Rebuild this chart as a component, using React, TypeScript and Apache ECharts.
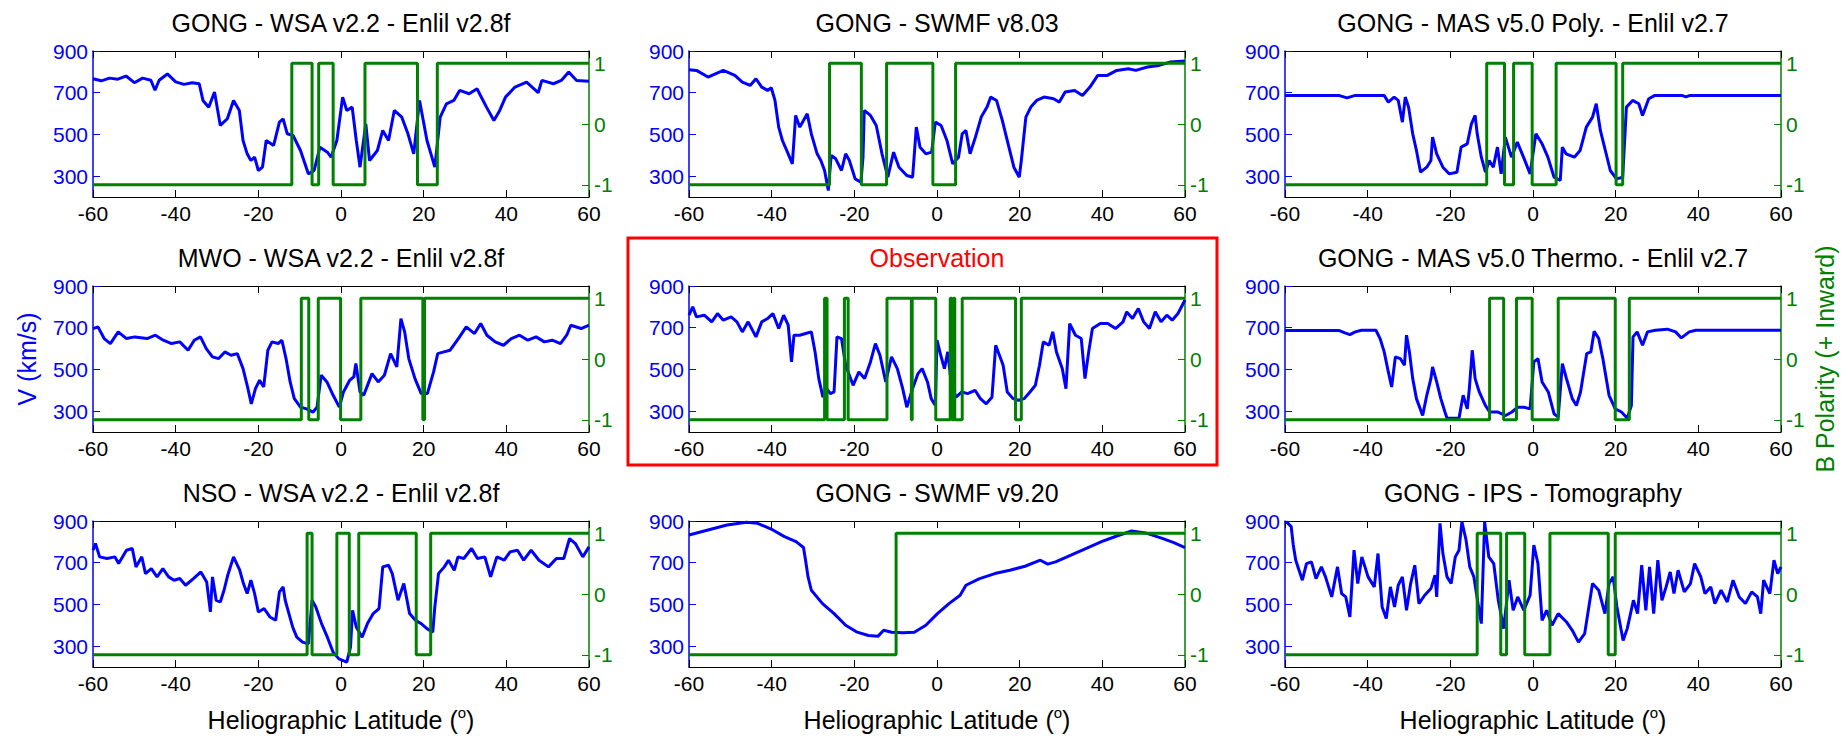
import React, { useEffect, useRef } from "react";
import * as echarts from "echarts";

// ---------- data ----------
const titles = [
  "GONG - WSA v2.2 - Enlil v2.8f",
  "GONG - SWMF v8.03",
  "GONG - MAS v5.0 Poly. - Enlil v2.7",
  "MWO - WSA v2.2 - Enlil v2.8f",
  "Observation",
  "GONG - MAS v5.0 Thermo. - Enlil v2.7",
  "NSO - WSA v2.2 - Enlil v2.8f",
  "GONG - SWMF v9.20",
  "GONG - IPS - Tomography",
];
const latTicks = [-60, -40, -20, 0, 20, 40, 60];
const speedTicks = [300, 500, 700, 900];
const polarityTicks = [-1, 0, 1];

// speed [latitude, km/s]
const gongWsaSpeed = [[-60,767],[-58,757],[-56,770],[-54,765],[-52,780],[-50,748],[-48,770],[-46,760],[-45,712],[-44,760],[-42,790],[-40,752],[-38,740],[-36,748],[-34.3,743],[-33.4,663],[-32,630],[-30.6,703],[-29.2,543],[-27.5,575],[-26,663],[-24.6,615],[-23.7,471],[-22.7,407],[-21.8,375],[-20.9,391],[-20,327],[-19,343],[-18.1,471],[-16.3,447],[-14.9,559],[-14,575],[-13,503],[-11.6,495],[-9.8,423],[-7.9,311],[-6.5,327],[-5.1,439],[-3.3,415],[-2.4,391],[-1,471],[0.4,679],[1.4,615],[2.7,631],[3.7,471],[4.6,343],[6,551],[6.9,375],[8.8,423],[10.1,519],[11.5,471],[12.9,615],[14.7,583],[16.2,503],[17.6,407],[19,663],[20.8,471],[22.7,343],[24,583],[25.5,647],[27.3,663],[28.7,711],[31,695],[32.9,719],[35.2,631],[37,567],[38.4,615],[39.8,679],[42.1,727],[44.9,751],[47.7,700],[48.6,759],[51.4,743],[53.3,759],[55.1,799],[57,759],[60,755]];
const gongSwmf8Speed = [[-60,810],[-58.2,807],[-55.4,775],[-51.7,807],[-48.9,783],[-47.1,751],[-45.2,735],[-43.8,767],[-42.4,727],[-41,711],[-40.1,724],[-39.2,663],[-38.3,535],[-37.4,471],[-36,407],[-35,359],[-34.5,503],[-34.2,591],[-33.2,535],[-32.3,567],[-31.4,599],[-30.4,503],[-29,407],[-28.1,375],[-27.2,327],[-26.3,231],[-25.6,399],[-24.5,383],[-23.1,327],[-22.1,407],[-21.2,375],[-19.8,287],[-18.4,271],[-17.9,391],[-17.6,615],[-16.1,591],[-14.7,543],[-13.3,407],[-11.9,295],[-10.5,415],[-9.2,343],[-7.3,303],[-5.9,295],[-5,535],[-4.1,439],[-2.7,407],[-1.3,415],[-0.4,559],[1,543],[2.4,471],[3.8,359],[5.2,391],[6.1,503],[7,519],[8,407],[9.3,487],[10.7,583],[12.1,631],[13,679],[14.4,663],[15.8,567],[17.2,455],[18.6,343],[19.9,295],[20.4,375],[21.5,583],[22.7,631],[24.1,663],[25.9,679],[28.2,671],[29.6,655],[31,703],[33.3,711],[35.2,687],[37,727],[38.9,783],[41.2,783],[43.5,807],[46.3,815],[48.1,807],[50.9,823],[53.7,831],[56.5,847],[60,852]];
const gongMasPolySpeed = [[-60,687],[-47,687],[-45,675],[-43,687],[-36,687],[-35,655],[-33.6,679],[-32.6,663],[-31.6,559],[-30.9,679],[-30.1,631],[-29.1,503],[-28.2,423],[-27.2,319],[-25.7,343],[-24.7,375],[-24.3,487],[-23.3,407],[-21.8,343],[-20.3,311],[-18.4,319],[-17.4,439],[-15.9,455],[-14.9,551],[-14,591],[-13.5,503],[-12.5,391],[-11.5,319],[-10.6,375],[-9.6,343],[-8.6,439],[-7.7,311],[-6.7,487],[-5.2,391],[-3.8,463],[-2.3,391],[-0.7,311],[0.7,503],[2.2,455],[3.6,391],[5.1,295],[6.6,279],[7.1,439],[8,407],[10,391],[11.4,423],[12.9,535],[14.4,583],[15.3,647],[16.3,519],[17.3,439],[18.7,327],[20.2,287],[21.7,295],[22.6,631],[24.1,663],[25.6,647],[26.5,591],[28,671],[29.5,687],[36,687],[37,680],[38,687],[60,687]];
const mwoWsaSpeed = [[-60,696],[-58.8,704],[-57.3,648],[-55.8,624],[-53.9,680],[-51.9,648],[-49.9,656],[-46.9,648],[-44.9,664],[-43,640],[-41,624],[-39,632],[-37,592],[-35.5,640],[-34,656],[-32.6,600],[-31.1,560],[-29.6,552],[-28.1,584],[-26.6,568],[-25.1,576],[-23.7,504],[-22.7,424],[-21.7,335],[-20.7,408],[-19.7,448],[-18.7,416],[-17.7,592],[-16.7,632],[-15.2,624],[-14.3,640],[-13.3,552],[-12.3,440],[-11.3,360],[-9.8,319],[-8.3,311],[-6.8,295],[-5.8,319],[-4.8,472],[-3.4,440],[-1.9,376],[-0.4,319],[0.6,392],[2.1,448],[3.1,464],[3.6,528],[4.6,392],[5.5,376],[7.5,480],[9,440],[10.5,472],[12,576],[13.5,512],[14.5,744],[15.4,680],[16.4,552],[17.9,456],[19.4,384],[20.9,384],[22.4,488],[23.4,576],[24.9,584],[26.4,592],[28.4,648],[30.3,704],[32.3,672],[33.8,720],[35.3,664],[37.3,632],[39.3,616],[41.2,648],[43.2,664],[45.2,640],[47.2,656],[49.2,632],[51.1,640],[53.1,624],[54.6,664],[55.6,712],[58.1,696],[60,712]];
const observedSpeed = [[-60,760],[-59.1,800],[-58.2,752],[-56.3,760],[-54.5,728],[-53.1,768],[-51.7,736],[-49.8,752],[-48.4,728],[-47.1,680],[-45.7,728],[-43.8,656],[-42.4,728],[-41,744],[-39.7,768],[-38.3,696],[-37.1,760],[-36,712],[-35.2,536],[-34.6,664],[-33.2,664],[-31.8,672],[-30.4,680],[-29.5,584],[-28.6,456],[-27.6,367],[-26.7,408],[-25.8,384],[-24.9,392],[-24.2,656],[-23.1,648],[-22.1,520],[-21.2,472],[-20.3,424],[-18.9,488],[-17.5,456],[-16.1,536],[-14.9,624],[-13.8,568],[-12.4,440],[-11,560],[-9.6,504],[-8.3,408],[-7.3,319],[-5.9,408],[-4.6,480],[-3.6,504],[-2.3,440],[-1.4,360],[-0.4,327],[0,640],[0.9,568],[1.8,504],[2.6,584],[3.5,424],[4.6,367],[6,392],[7.4,384],[9.2,400],[10.5,360],[11.9,335],[13.3,367],[14.2,616],[15.1,568],[16,520],[17,392],[18.4,360],[19.7,352],[21.1,360],[22.5,392],[23.8,424],[24.8,520],[25.7,632],[27.1,616],[28,680],[28.9,584],[30.3,504],[31.2,408],[32.1,720],[33.5,664],[34.9,648],[35.8,456],[36.7,584],[37.6,696],[39.5,720],[41.3,720],[43.2,696],[45,728],[45.9,776],[47.3,744],[48.7,792],[50,728],[51.4,696],[52.8,776],[54.2,728],[55.6,760],[56.9,736],[58.3,768],[60,833]];
const gongMasThermoSpeed = [[-60,687],[-47,687],[-45.5,675],[-44.3,667],[-43,680],[-41.5,688],[-38,688],[-37,648],[-36,584],[-35,488],[-34.2,416],[-33.3,560],[-32.1,552],[-31.1,520],[-30.6,664],[-29.9,584],[-29.1,456],[-28.2,360],[-26.7,279],[-25.7,376],[-24.7,456],[-24.3,512],[-23.3,440],[-22.3,360],[-21.3,296],[-20.8,266],[-17.9,266],[-16.9,376],[-15.9,311],[-15.4,408],[-14.7,592],[-14,456],[-13,392],[-11.5,327],[-10.5,296],[-8.6,296],[-6.6,279],[-5.1,296],[-3.7,319],[-2.2,319],[-0.7,311],[0.2,536],[1.2,552],[2.2,440],[3.7,392],[5.1,287],[6.1,271],[7.1,528],[8.1,456],[9.5,360],[10.5,327],[11.5,392],[13,576],[14,584],[14.8,683],[15.9,648],[16.9,552],[18.4,376],[19.9,311],[21.4,296],[22.8,266],[23.8,327],[24.2,656],[25.2,680],[26.5,616],[27.7,680],[29.6,688],[32.5,693],[34.5,680],[35.9,651],[37.8,680],[39.4,688],[60,688]];
const nsoWsaSpeed = [[-60,760],[-59.4,792],[-58.4,728],[-56.6,720],[-54.7,728],[-53.8,696],[-51.9,760],[-50.5,768],[-49.6,680],[-48.2,728],[-47.3,648],[-45.9,672],[-44.5,632],[-43.1,672],[-41.7,632],[-40.4,616],[-39,624],[-37.6,592],[-35.7,624],[-33.9,656],[-32.5,608],[-31.6,464],[-31.1,632],[-30.2,520],[-29.2,512],[-28.3,568],[-27.4,640],[-26,728],[-24.5,664],[-23.6,600],[-22.7,552],[-21.8,616],[-20.9,552],[-20,464],[-18.6,480],[-17.2,440],[-15.8,424],[-14.9,560],[-14,584],[-13.5,520],[-12.6,456],[-11.7,392],[-10.7,343],[-9.3,319],[-7.9,311],[-7,520],[-6.1,488],[-4.7,408],[-3.3,343],[-1.9,271],[-0.5,239],[1.4,223],[2.3,295],[2.8,472],[3.7,392],[5.1,343],[6.4,408],[7.8,456],[9.2,480],[10.1,680],[11.5,688],[12.4,648],[13.8,520],[15.2,600],[16.6,456],[18,424],[19.4,408],[20.8,384],[22.2,367],[22.7,488],[23.6,648],[25,680],[26,712],[27.4,664],[28.3,728],[29.7,720],[31.6,768],[33,720],[34.8,728],[36.2,632],[37.7,728],[39.5,712],[40.9,752],[42.7,760],[44.2,712],[46,760],[47.9,712],[50.2,680],[52.1,720],[53.9,720],[55.3,816],[56.7,792],[58.5,728],[60,776]];
const gongSwmf9Speed = [[-60,833],[-55.4,857],[-50.8,881],[-46.1,894],[-43.4,889],[-39.7,857],[-36.9,825],[-34.1,801],[-32.3,773],[-31.8,712],[-31.2,632],[-30.4,568],[-27.7,504],[-24.9,456],[-22.1,400],[-19.3,367],[-16.6,351],[-14.3,347],[-12.9,376],[-11,367],[-8.2,364],[-5.5,367],[-2.7,400],[0.1,456],[2.9,504],[5.6,544],[7,592],[10.3,624],[14,648],[17.6,664],[21.3,683],[25,712],[26.8,693],[28.7,704],[32.4,736],[36,768],[39.8,801],[43.5,828],[47.1,852],[50.8,841],[54.5,817],[57.3,796],[60,772]];
const gongIpsSpeed = [[-59.7,897],[-58.5,873],[-58,785],[-57.4,712],[-56.6,664],[-55.8,616],[-54.8,696],[-53.6,704],[-52.5,624],[-51.2,680],[-50.2,632],[-48.7,536],[-47.3,680],[-46.3,552],[-45.3,536],[-44.3,440],[-43.3,760],[-42.4,600],[-41.4,728],[-39.9,632],[-38.4,584],[-37.5,744],[-36.5,488],[-35.5,432],[-34.5,584],[-33.5,488],[-32.6,592],[-31.6,632],[-30.6,472],[-29.6,600],[-28.6,688],[-27.6,504],[-26.2,544],[-24.7,576],[-23.7,640],[-23.3,536],[-22.5,889],[-21.8,744],[-20.8,632],[-19.8,600],[-18.8,728],[-17.9,760],[-17.2,897],[-16.2,809],[-15.3,680],[-14.3,632],[-13.3,504],[-12.5,408],[-11.7,897],[-10.7,728],[-9.5,696],[-8.4,520],[-7.1,384],[-5.8,616],[-4.8,472],[-3.7,536],[-2.2,472],[-0.7,544],[0.2,785],[1.2,696],[2.2,424],[3.3,472],[4.6,400],[6.1,456],[8.1,416],[9.5,376],[11,319],[12.5,360],[14.4,600],[15.9,568],[17.4,456],[18.4,600],[19.4,632],[20.3,488],[21.8,327],[22.8,384],[24.3,520],[25.3,456],[26.3,688],[27.3,472],[28.2,680],[29.2,456],[30.2,712],[31.2,520],[32.2,584],[33.2,656],[34.1,552],[35.1,664],[36.6,560],[38.1,600],[39.1,696],[40.6,632],[41.6,552],[43,584],[44,504],[45.5,568],[47,512],[48.4,616],[49.9,536],[51.4,504],[52.9,560],[54.3,536],[55.1,456],[55.8,616],[57.3,552],[58.3,712],[59.2,648],[60,680]];

// polarity flips: latitude where the value starts, value held until next latitude
const gongWsaPolLat = [-60, -11.9, -7, -5.4, -1.9, 5.8, 18.5, 23.3, 60];
const gongWsaPol = [-1, 1, -1, 1, -1, 1, -1, 1, 1];
const gongSwmf8PolLat = [-60, -26, -18.3, -12.2, -1, 4.5, 60];
const gongSwmf8Pol = [-1, 1, -1, 1, -1, 1, 1];
const gongMasPolyPolLat = [-60, -11.2, -6.9, -4.7, -0.2, 5.6, 20.1, 21.7, 60];
const gongMasPolyPol = [-1, 1, -1, 1, -1, 1, -1, 1, 1];
const mwoWsaPolLat = [-60, -9.6, -7.8, -5.5, -0.1, 4.8, 19.8, 20.2, 60];
const mwoWsaPol = [-1, 1, -1, 1, -1, 1, -1, 1, 1];
const observedPolLat = [-60, -27.2, -26.6, -22.4, -21.5, -12.1, -6.2, -6.0, -0.3, 3.2, 3.6, 4.0, 4.3, 6.1, 19.0, 20.4, 60];
const observedPol = [-1, 1, -1, 1, -1, 1, -1, 1, -1, 1, -1, 1, -1, 1, -1, 1, 1];
const gongMasThermoPolLat = [-60, -10.5, -7.1, -4, -0.2, 6.1, 19.9, 23.3, 60];
const gongMasThermoPol = [-1, 1, -1, 1, -1, 1, -1, 1, 1];
const nsoWsaPolLat = [-60, -8.2, -7, -1, 2, 4.3, 18.2, 21.7, 60];
const nsoWsaPol = [-1, 1, -1, 1, -1, 1, -1, 1, 1];
const gongSwmf9PolLat = [-60, -9.9, 60];
const gongSwmf9Pol = [-1, 1, 1];
const gongIpsPolLat = [-60, -13.5, -7.8, -6.4, -2, 4.1, 18.2, 19.9, 60];
const gongIpsPol = [-1, 1, -1, 1, -1, 1, -1, 1, 1];

const speeds = [gongWsaSpeed, gongSwmf8Speed, gongMasPolySpeed, mwoWsaSpeed, observedSpeed, gongMasThermoSpeed, nsoWsaSpeed, gongSwmf9Speed, gongIpsSpeed];
const polLats = [gongWsaPolLat, gongSwmf8PolLat, gongMasPolyPolLat, mwoWsaPolLat, observedPolLat, gongMasThermoPolLat, nsoWsaPolLat, gongSwmf9PolLat, gongIpsPolLat];
const pols = [gongWsaPol, gongSwmf8Pol, gongMasPolyPol, mwoWsaPol, observedPol, gongMasThermoPol, nsoWsaPol, gongSwmf9Pol, gongIpsPol];

// ---------- layout ----------
const FONT = "'Liberation Sans', Arial, Helvetica, sans-serif";
const BLUE = "#0000ff";
const GREEN = "#008000";
const COL_LEFT = [93, 689, 1285];
const ROW_TOP = [51, 286, 521];
const PW = 496;
const PH = 146;

export default function App() {
  const ref = useRef<HTMLDivElement>(null);
  useEffect(() => {
    const chart = echarts.init(ref.current!, null, { renderer: "svg" });
    const grids: any[] = [];
    const xAxes: any[] = [];
    const yAxes: any[] = [];
    const series: any[] = [];
    const graphics: any[] = [];
    for (let i = 0; i < 9; i++) {
      const r = Math.floor(i / 3);
      const c = i % 3;
      const left = COL_LEFT[c];
      const top = ROW_TOP[r];
      grids.push({ left, top, width: PW, height: PH, containLabel: false });
      const xBase = {
        gridIndex: i,
        type: "value",
        min: -60,
        max: 60,
        interval: 20,
        splitLine: { show: false },
        axisLine: { show: true, onZero: false, lineStyle: { color: "#000", width: 1 } },
        axisTick: { show: true, inside: true, length: 7, lineStyle: { color: "#000" } },
      };
      xAxes.push({
        ...xBase,
        position: "bottom",
        axisLabel: { show: true, color: "#000", fontSize: 21, fontFamily: FONT, margin: 6, customValues: latTicks },
      });
      xAxes.push({ ...xBase, position: "top", axisLabel: { show: false } });
      yAxes.push({
        gridIndex: i,
        type: "value",
        position: "left",
        min: 200,
        max: 900,
        splitLine: { show: false },
        axisLine: { show: true, onZero: false, lineStyle: { color: BLUE, width: 1.5 } },
        axisTick: { show: true, inside: true, length: 7, customValues: speedTicks, lineStyle: { color: BLUE } },
        axisLabel: { show: true, color: BLUE, fontSize: 21, fontFamily: FONT, margin: 5, customValues: speedTicks },
      });
      yAxes.push({
        gridIndex: i,
        type: "value",
        position: "right",
        min: -1.2,
        max: 1.2,
        splitLine: { show: false },
        axisLine: { show: true, onZero: false, lineStyle: { color: GREEN, width: 1.5 } },
        axisTick: { show: true, inside: true, length: 7, customValues: polarityTicks, lineStyle: { color: GREEN } },
        axisLabel: { show: true, color: GREEN, fontSize: 21, fontFamily: FONT, margin: 5, customValues: polarityTicks },
      });
      series.push({
        type: "line",
        xAxisIndex: 2 * i,
        yAxisIndex: 2 * i,
        data: speeds[i],
        symbol: "none",
        showSymbol: false,
        silent: true,
        z: 2,
        lineStyle: { color: BLUE, width: 3 },
      });
      series.push({
        type: "line",
        xAxisIndex: 2 * i,
        yAxisIndex: 2 * i + 1,
        data: polLats[i].map((lat, k) => [lat, pols[i][k]]),
        step: "end",
        symbol: "none",
        showSymbol: false,
        silent: true,
        z: 3,
        lineStyle: { color: GREEN, width: 3 },
      });
      graphics.push({
        type: "text",
        x: left + PW / 2,
        y: top - 28,
        style: {
          text: titles[i],
          fill: i === 4 ? "#ff0000" : "#000",
          fontSize: 25,
          fontFamily: FONT,
          align: "center",
          verticalAlign: "middle",
        },
      });
      if (r === 2) {
        graphics.push({
          type: "text",
          x: left + PW / 2,
          y: 720,
          style: {
            text: "{n|Heliographic Latitude (}{s|o}{n|)}",
            fill: "#000",
            fontFamily: FONT,
            fontSize: 25,
            align: "center",
            verticalAlign: "middle",
            rich: {
              n: { fontSize: 25, fontFamily: FONT, fill: "#000", lineHeight: 30 },
              s: { fontSize: 15, fontFamily: FONT, fill: "#000", verticalAlign: "top", lineHeight: 30 },
            },
          },
        });
      }
    }
    graphics.push({
      type: "text",
      x: 27,
      y: ROW_TOP[1] + PH / 2,
      rotation: Math.PI / 2,
      style: { text: "V (km/s)", fill: BLUE, fontSize: 25, fontFamily: FONT, align: "center", verticalAlign: "middle" },
    });
    graphics.push({
      type: "text",
      x: 1825,
      y: ROW_TOP[1] + PH / 2,
      rotation: Math.PI / 2,
      style: { text: "B Polarity (+ Inward)", fill: GREEN, fontSize: 25, fontFamily: FONT, align: "center", verticalAlign: "middle" },
    });
    graphics.push({
      type: "rect",
      shape: { x: 628, y: 238, width: 589, height: 227 },
      style: { fill: "none", stroke: "#ff0000", lineWidth: 3 },
    });

    chart.setOption({
      animation: false,
      backgroundColor: "#ffffff",
      grid: grids,
      xAxis: xAxes,
      yAxis: yAxes,
      series,
      graphic: graphics,
    });
    return () => chart.dispose();
  }, []);
  return (
    <div
      ref={ref}
      style={{ position: "absolute", left: 0, top: 0, width: 1845, height: 736, background: "#fff" }}
    />
  );
}
